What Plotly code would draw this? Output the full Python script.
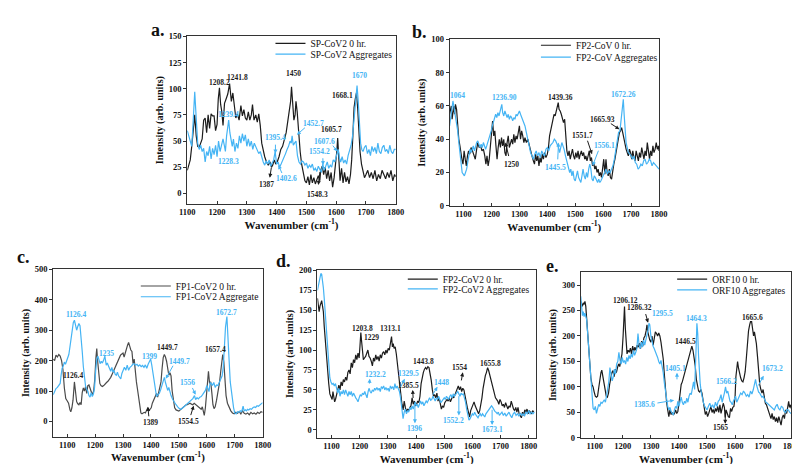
import plotly.graph_objects as go

FONT = "Liberation Serif"
BLACK = "#1c1c1c"
GRAY = "#4a4a4a"
BLUE = "#45b4f4"

# ---------------- data (wavenumber, intensity) ----------------
a_black = [(1100,22),(1105,28),(1110,32),(1115,45),(1120,60),(1125,75),(1130,55),(1135,45),(1140,44),(1145,48),(1150,52),(1155,70),(1160,72),(1165,58),(1170,75),(1175,62),(1180,76),(1185,74),(1190,74),(1195,60),(1200,66),(1204,90),(1208,101),(1212,85),(1216,78),(1220,65),(1225,86),(1230,90),(1236,95),(1242,105),(1248,88),(1253,96),(1258,80),(1263,72),(1268,76),(1274,70),(1280,84),(1285,74),(1290,80),(1295,72),(1300,70),(1305,78),(1310,70),(1315,75),(1319,85),(1324,70),(1330,75),(1335,68),(1340,76),(1345,65),(1350,48),(1355,40),(1360,35),(1366,30),(1372,27),(1378,30),(1383,25),(1387,27),(1392,32),(1397,28),(1402,30),(1408,35),(1414,42),(1420,45),(1426,52),(1432,58),(1438,70),(1443,80),(1447,88),(1450,102),(1454,82),(1458,70),(1462,75),(1465,88),(1469,78),(1474,58),(1479,40),(1484,28),(1490,20),(1495,12),(1500,10),(1505,16),(1510,8),(1515,18),(1520,10),(1525,15),(1530,9),(1535,14),(1540,17),(1545,12),(1548,22),(1553,26),(1558,18),(1563,25),(1568,14),(1573,22),(1578,12),(1583,20),(1588,6),(1593,15),(1598,28),(1602,40),(1605,53),(1609,25),(1613,12),(1618,24),(1623,10),(1628,20),(1633,11),(1638,16),(1643,9),(1648,18),(1652,32),(1656,55),(1660,82),(1664,90),(1668,96),(1672,82),(1676,60),(1680,40),(1685,28),(1690,20),(1695,15),(1700,18),(1706,22),(1712,15),(1718,20),(1724,14),(1730,22),(1736,12),(1742,18),(1748,14),(1754,22),(1760,18),(1766,14),(1772,20),(1778,15),(1784,22),(1790,12),(1796,18),(1800,16)]
a_blue = [(1100,60),(1105,55),(1110,48),(1115,45),(1120,70),(1125,97),(1130,72),(1135,48),(1140,42),(1145,46),(1150,40),(1155,43),(1160,30),(1165,40),(1170,36),(1175,45),(1180,33),(1185,43),(1190,37),(1195,46),(1200,35),(1205,50),(1210,40),(1215,46),(1220,52),(1225,45),(1228,40),(1232,55),(1236,62),(1239,70),(1243,58),(1247,50),(1251,45),(1255,52),(1260,40),(1265,48),(1270,43),(1275,55),(1280,48),(1285,57),(1290,50),(1295,56),(1300,45),(1305,52),(1310,45),(1315,50),(1320,42),(1325,48),(1330,44),(1335,42),(1340,38),(1345,40),(1350,34),(1355,30),(1360,27),(1365,31),(1370,28),(1375,32),(1380,26),(1385,30),(1390,32),(1395,40),(1400,28),(1405,30),(1410,25),(1415,28),(1420,31),(1425,35),(1430,38),(1435,42),(1440,45),(1445,50),(1449,48),(1452,55),(1456,46),(1460,48),(1465,50),(1470,36),(1475,30),(1480,28),(1485,31),(1490,30),(1495,27),(1500,29),(1505,24),(1510,27),(1515,25),(1520,28),(1525,22),(1530,24),(1535,21),(1540,26),(1545,22),(1550,20),(1555,28),(1560,22),(1565,26),(1570,30),(1575,24),(1580,27),(1585,25),(1590,32),(1595,30),(1600,36),(1604,38),(1607,42),(1611,34),(1615,30),(1620,35),(1625,29),(1630,32),(1635,28),(1640,36),(1645,40),(1650,46),(1655,55),(1660,70),(1665,90),(1670,103),(1674,88),(1678,62),(1682,48),(1686,42),(1690,40),(1695,44),(1700,46),(1705,38),(1710,42),(1715,36),(1720,45),(1725,40),(1730,44),(1735,38),(1740,48),(1745,40),(1750,38),(1755,44),(1760,46),(1765,40),(1770,42),(1775,38),(1780,46),(1785,40),(1790,38),(1795,42),(1800,42)]

b_black = [(1050,55),(1053,58),(1056,60),(1059,52),(1062,58),(1065,60),(1068,55),(1071,61),(1075,58),(1079,46),(1083,40),(1087,36),(1091,30),(1095,27),(1098,25),(1102,33),(1106,28),(1110,24),(1114,30),(1118,33),(1122,31),(1127,35),(1132,33),(1137,30),(1142,28),(1147,34),(1151,38),(1156,35),(1161,36),(1166,33),(1171,34),(1176,30),(1180,25),(1184,30),(1188,24),(1192,28),(1196,36),(1200,45),(1204,51),(1208,42),(1212,45),(1216,36),(1220,28),(1224,35),(1228,40),(1232,35),(1236,41),(1240,36),(1244,40),(1248,32),(1252,30),(1256,38),(1260,42),(1264,35),(1268,38),(1272,40),(1276,37),(1280,43),(1284,38),(1288,42),(1292,40),(1296,44),(1300,48),(1304,40),(1308,45),(1312,42),(1316,38),(1320,41),(1325,38),(1330,40),(1335,36),(1340,34),(1345,30),(1350,27),(1354,25),(1358,31),(1362,27),(1366,30),(1370,24),(1374,29),(1378,26),(1382,31),(1386,28),(1390,32),(1395,29),(1400,31),(1404,35),(1408,42),(1412,45),(1416,50),(1420,52),(1424,55),(1428,54),(1432,57),(1436,59),(1439,62),(1442,58),(1446,57),(1450,55),(1454,52),(1458,50),(1462,52),(1466,42),(1470,33),(1474,30),(1478,33),(1482,28),(1486,32),(1490,34),(1494,30),(1498,28),(1502,32),(1506,29),(1510,33),(1514,28),(1518,31),(1522,33),(1526,30),(1530,32),(1534,28),(1538,30),(1542,27),(1546,30),(1550,33),(1554,27),(1558,29),(1562,24),(1566,26),(1570,22),(1574,24),(1578,20),(1582,22),(1586,18),(1590,20),(1594,17),(1598,24),(1602,28),(1606,19),(1610,28),(1614,20),(1618,18),(1622,22),(1626,17),(1630,16),(1634,22),(1638,25),(1642,28),(1646,32),(1650,38),(1654,42),(1658,44),(1662,45),(1666,47),(1670,44),(1674,40),(1678,36),(1682,34),(1686,32),(1690,30),(1694,34),(1698,32),(1702,28),(1706,33),(1710,29),(1714,27),(1718,33),(1722,30),(1726,27),(1730,32),(1734,29),(1738,35),(1742,31),(1746,28),(1750,33),(1754,30),(1758,38),(1762,32),(1766,28),(1770,33),(1774,30),(1778,36),(1782,32),(1786,34),(1790,38),(1794,34),(1798,36),(1800,33)]
b_blue = [(1050,48),(1053,52),(1056,58),(1059,60),(1062,63),(1065,60),(1068,57),(1071,55),(1075,50),(1079,45),(1083,38),(1087,32),(1091,25),(1095,20),(1099,19),(1103,18),(1107,20),(1111,22),(1115,26),(1119,30),(1123,34),(1127,32),(1131,35),(1135,36),(1139,33),(1143,36),(1147,38),(1151,39),(1155,36),(1159,35),(1163,37),(1167,35),(1171,38),(1175,36),(1179,34),(1183,36),(1187,38),(1191,40),(1195,42),(1199,45),(1203,48),(1207,50),(1211,52),(1215,55),(1219,53),(1223,56),(1227,54),(1231,57),(1234,58),(1237,61),(1240,56),(1244,54),(1248,57),(1252,55),(1256,53),(1260,55),(1264,52),(1268,54),(1272,53),(1276,51),(1280,53),(1284,52),(1288,55),(1292,54),(1296,56),(1300,57),(1304,55),(1308,53),(1312,52),(1316,50),(1320,48),(1325,44),(1330,40),(1335,35),(1340,32),(1345,30),(1350,28),(1355,31),(1360,33),(1365,30),(1370,32),(1375,29),(1380,33),(1385,31),(1390,30),(1395,34),(1400,35),(1405,33),(1410,36),(1415,37),(1420,38),(1425,40),(1430,39),(1435,37),(1440,35),(1444,32),(1448,36),(1452,38),(1456,36),(1460,34),(1465,30),(1470,27),(1475,24),(1480,20),(1484,22),(1488,18),(1492,21),(1496,16),(1500,15),(1504,19),(1508,21),(1512,17),(1516,15),(1520,14),(1524,18),(1528,22),(1532,18),(1536,16),(1540,20),(1544,17),(1548,22),(1552,25),(1556,22),(1560,16),(1564,15),(1568,18),(1572,17),(1576,15),(1580,14),(1584,16),(1588,14),(1592,15),(1596,17),(1600,18),(1605,20),(1610,22),(1615,19),(1620,21),(1625,20),(1630,22),(1635,24),(1640,28),(1645,34),(1650,40),(1655,44),(1660,45),(1664,52),(1668,58),(1672,64),(1675,55),(1678,45),(1682,38),(1686,35),(1690,32),(1695,31),(1700,30),(1705,28),(1710,30),(1715,26),(1720,25),(1725,22),(1730,23),(1735,25),(1740,24),(1745,27),(1750,28),(1755,25),(1760,26),(1765,28),(1770,27),(1775,24),(1780,26),(1785,25),(1790,24),(1795,23),(1800,22)]

c_black = [(1050,205),(1055,200),(1060,218),(1065,212),(1070,220),(1075,215),(1080,200),(1085,170),(1090,110),(1095,75),(1100,68),(1105,60),(1110,38),(1113,32),(1117,45),(1121,70),(1126,130),(1130,95),(1134,65),(1138,58),(1142,55),(1146,62),(1150,55),(1154,95),(1158,110),(1162,100),(1166,115),(1170,92),(1174,118),(1178,120),(1182,110),(1186,95),(1190,88),(1195,100),(1199,140),(1203,210),(1206,240),(1209,200),(1213,150),(1217,125),(1221,118),(1226,115),(1231,118),(1236,125),(1241,128),(1246,132),(1251,138),(1256,145),(1261,155),(1266,165),(1271,178),(1276,190),(1281,200),(1286,210),(1291,218),(1296,222),(1300,225),(1304,212),(1308,228),(1312,240),(1316,250),(1320,260),(1324,245),(1328,235),(1332,230),(1336,190),(1340,205),(1344,160),(1348,130),(1352,105),(1356,75),(1360,45),(1364,28),(1368,25),(1372,27),(1376,30),(1380,28),(1385,38),(1389,45),(1393,36),(1397,40),(1401,45),(1405,60),(1410,72),(1415,85),(1420,92),(1424,80),(1428,95),(1432,110),(1436,130),(1440,175),(1444,210),(1448,220),(1452,212),(1456,198),(1460,165),(1464,152),(1468,160),(1472,150),(1476,100),(1480,65),(1485,45),(1490,38),(1495,35),(1500,34),(1505,38),(1510,42),(1515,48),(1520,50),(1525,54),(1530,55),(1535,58),(1540,60),(1545,57),(1550,55),(1555,60),(1560,56),(1565,54),(1570,50),(1575,45),(1580,40),(1584,48),(1588,28),(1591,20),(1595,45),(1599,90),(1603,140),(1606,165),(1610,125),(1614,130),(1618,95),(1622,55),(1626,42),(1630,48),(1635,70),(1640,95),(1645,125),(1650,165),(1654,200),(1657,220),(1661,195),(1665,130),(1669,85),(1674,60),(1680,45),(1686,35),(1692,28),(1698,25),(1704,30),(1710,27),(1716,32),(1722,25),(1728,35),(1734,27),(1740,24),(1746,28),(1752,22),(1758,30),(1764,25),(1770,28),(1776,24),(1782,30),(1788,26),(1794,32),(1800,30)]
c_blue = [(1050,88),(1055,100),(1060,108),(1065,112),(1070,118),(1075,125),(1078,150),(1082,175),(1086,182),(1090,195),(1094,188),(1098,200),(1102,205),(1106,220),(1110,245),(1114,275),(1118,305),(1122,325),(1126,333),(1130,315),(1134,300),(1138,312),(1142,322),(1146,315),(1150,280),(1154,230),(1158,180),(1162,140),(1166,115),(1170,105),(1174,100),(1178,85),(1182,80),(1186,95),(1190,82),(1194,90),(1198,110),(1202,165),(1206,205),(1210,215),(1214,205),(1218,190),(1222,198),(1226,192),(1230,200),(1235,215),(1240,185),(1244,192),(1248,182),(1252,175),(1256,165),(1260,178),(1264,162),(1268,168),(1272,155),(1276,152),(1280,162),(1284,150),(1288,145),(1292,140),(1296,158),(1300,170),(1305,178),(1310,168),(1315,185),(1320,168),(1325,178),(1330,182),(1335,188),(1340,190),(1345,185),(1350,188),(1355,182),(1360,186),(1365,180),(1370,184),(1375,178),(1380,186),(1385,175),(1390,188),(1395,198),(1399,205),(1403,185),(1407,160),(1411,130),(1415,100),(1420,82),(1425,88),(1430,92),(1435,105),(1440,120),(1444,135),(1448,145),(1452,128),(1456,118),(1460,102),(1464,112),(1468,95),(1472,85),(1478,72),(1484,62),(1490,55),(1496,48),(1502,42),(1508,40),(1514,45),(1520,50),(1526,55),(1532,58),(1538,62),(1544,68),(1550,75),(1556,85),(1560,72),(1565,78),(1570,74),(1575,80),(1580,82),(1585,88),(1590,95),(1595,102),(1600,118),(1604,105),(1608,98),(1612,128),(1616,125),(1620,118),(1625,128),(1630,112),(1635,120),(1640,118),(1645,128),(1650,140),(1655,150),(1659,180),(1663,250),(1667,310),(1672,345),(1676,290),(1680,200),(1684,130),(1688,95),(1692,70),(1696,45),(1700,28),(1705,25),(1710,32),(1715,30),(1720,35),(1725,32),(1730,50),(1734,34),(1738,38),(1742,35),(1746,40),(1750,38),(1755,42),(1760,40),(1765,45),(1770,48),(1775,46),(1780,52),(1785,50),(1790,55),(1795,58),(1800,62)]

d_black = [(1050,165),(1053,150),(1056,148),(1059,155),(1062,160),(1065,162),(1068,155),(1071,148),(1074,130),(1078,110),(1082,92),(1086,75),(1090,58),(1094,45),(1098,40),(1102,38),(1105,48),(1108,40),(1111,35),(1114,38),(1118,44),(1122,50),(1126,56),(1130,50),(1134,60),(1138,55),(1142,63),(1146,60),(1150,66),(1154,62),(1158,72),(1162,75),(1166,70),(1170,84),(1174,78),(1178,88),(1182,84),(1186,94),(1190,88),(1194,96),(1198,90),(1201,105),(1204,122),(1207,110),(1210,100),(1213,88),(1217,90),(1221,92),(1225,96),(1229,100),(1233,92),(1237,90),(1241,86),(1245,80),(1249,90),(1253,86),(1257,94),(1261,88),(1265,92),(1269,86),(1273,94),(1277,90),(1281,96),(1285,98),(1289,94),(1293,100),(1297,96),(1301,102),(1305,100),(1309,110),(1313,117),(1316,104),(1319,108),(1322,102),(1326,104),(1330,95),(1334,82),(1338,65),(1342,50),(1346,40),(1350,32),(1354,25),(1358,36),(1362,28),(1366,22),(1370,26),(1374,24),(1378,28),(1382,30),(1386,40),(1390,32),(1394,36),(1398,30),(1402,32),(1406,36),(1410,34),(1414,42),(1418,58),(1422,68),(1426,72),(1430,76),(1434,78),(1438,76),(1442,79),(1446,78),(1450,72),(1454,62),(1458,50),(1462,42),(1466,44),(1470,40),(1474,46),(1478,36),(1482,40),(1486,32),(1490,26),(1494,30),(1498,28),(1502,34),(1506,36),(1510,38),(1514,36),(1518,40),(1522,35),(1526,38),(1530,42),(1534,40),(1538,44),(1542,46),(1546,50),(1550,55),(1554,50),(1558,54),(1562,48),(1566,52),(1570,50),(1574,42),(1578,32),(1582,28),(1586,22),(1590,16),(1594,24),(1598,28),(1602,32),(1606,35),(1610,30),(1614,26),(1618,22),(1622,20),(1626,24),(1630,30),(1634,40),(1638,52),(1642,62),(1646,68),(1650,72),(1654,78),(1658,74),(1662,68),(1666,64),(1670,56),(1674,48),(1678,44),(1682,40),(1686,38),(1690,36),(1694,32),(1698,38),(1702,35),(1706,30),(1710,32),(1714,28),(1718,34),(1722,30),(1726,26),(1730,30),(1734,28),(1738,36),(1742,30),(1746,26),(1750,24),(1754,28),(1758,22),(1762,28),(1766,20),(1770,18),(1774,15),(1778,22),(1782,18),(1786,25),(1790,22),(1794,26),(1798,20),(1802,24),(1806,22),(1810,20),(1814,24),(1818,22)]
d_blue = [(1050,175),(1053,180),(1056,186),(1059,192),(1062,196),(1065,195),(1068,188),(1071,178),(1074,165),(1078,145),(1082,120),(1086,95),(1090,78),(1094,65),(1098,60),(1102,57),(1106,58),(1110,55),(1114,58),(1118,50),(1122,46),(1126,52),(1130,42),(1134,48),(1138,45),(1142,50),(1146,44),(1150,50),(1154,46),(1158,42),(1162,48),(1166,44),(1170,48),(1174,42),(1178,46),(1182,42),(1186,40),(1190,38),(1194,35),(1198,40),(1202,44),(1206,42),(1210,46),(1214,44),(1218,48),(1222,44),(1226,40),(1230,48),(1233,52),(1237,48),(1241,46),(1245,50),(1249,48),(1253,52),(1257,50),(1261,53),(1265,50),(1269,52),(1273,48),(1277,54),(1281,52),(1285,55),(1289,50),(1293,53),(1297,50),(1301,52),(1305,48),(1309,55),(1313,52),(1317,54),(1321,50),(1325,58),(1329,52),(1333,55),(1337,52),(1341,48),(1345,40),(1348,28),(1351,18),(1354,14),(1358,22),(1362,26),(1366,20),(1370,24),(1374,22),(1378,28),(1382,25),(1386,30),(1390,26),(1394,32),(1397,35),(1400,30),(1404,32),(1408,28),(1412,33),(1416,36),(1420,32),(1424,35),(1428,30),(1432,34),(1436,36),(1440,34),(1444,38),(1448,40),(1452,37),(1456,38),(1460,42),(1464,38),(1468,36),(1472,40),(1476,38),(1480,42),(1484,38),(1488,34),(1492,36),(1496,38),(1500,40),(1504,38),(1508,42),(1512,40),(1516,38),(1520,42),(1524,44),(1528,40),(1532,45),(1536,42),(1540,44),(1544,46),(1548,48),(1552,45),(1556,42),(1560,46),(1564,44),(1568,45),(1572,40),(1576,34),(1580,25),(1584,18),(1588,12),(1592,14),(1596,18),(1600,20),(1604,18),(1608,22),(1612,19),(1616,16),(1620,15),(1624,18),(1628,20),(1632,17),(1636,20),(1640,18),(1644,16),(1648,20),(1652,22),(1656,24),(1660,26),(1664,28),(1668,30),(1672,28),(1676,25),(1680,23),(1684,22),(1688,20),(1692,22),(1696,18),(1700,20),(1705,22),(1710,18),(1715,21),(1720,17),(1725,20),(1730,22),(1735,18),(1740,15),(1745,20),(1750,22),(1755,18),(1760,20),(1765,17),(1770,21),(1775,18),(1780,20),(1785,17),(1790,22),(1795,20),(1800,24),(1805,20),(1810,22),(1815,20),(1820,22)]

e_black = [(1050,268),(1053,262),(1056,258),(1059,265),(1062,262),(1065,268),(1068,258),(1071,235),(1074,210),(1078,175),(1082,140),(1086,118),(1090,105),(1094,100),(1098,90),(1102,82),(1106,80),(1110,82),(1114,98),(1118,115),(1122,128),(1125,133),(1129,120),(1133,100),(1137,88),(1141,82),(1145,80),(1149,88),(1153,105),(1157,120),(1161,128),(1165,132),(1169,120),(1173,135),(1177,128),(1181,138),(1185,145),(1189,140),(1193,152),(1197,165),(1201,200),(1204,240),(1206,258),(1209,215),(1212,180),(1215,165),(1219,172),(1223,168),(1227,176),(1231,165),(1235,180),(1239,170),(1243,178),(1247,172),(1251,182),(1255,178),(1259,186),(1263,175),(1267,190),(1271,180),(1275,196),(1279,200),(1283,210),(1286,222),(1289,208),(1292,200),(1296,192),(1300,188),(1304,200),(1308,182),(1312,195),(1316,208),(1320,205),(1324,200),(1328,206),(1332,200),(1336,188),(1340,175),(1344,155),(1348,125),(1352,95),(1356,70),(1360,55),(1364,42),(1368,55),(1372,46),(1376,50),(1380,45),(1384,48),(1388,55),(1392,48),(1396,52),(1400,68),(1404,95),(1408,105),(1412,110),(1416,118),(1420,125),(1424,132),(1428,140),(1432,150),(1436,160),(1440,168),(1443,175),(1446,180),(1450,172),(1454,160),(1458,142),(1462,115),(1466,100),(1470,92),(1474,90),(1478,95),(1482,88),(1486,75),(1490,58),(1494,46),(1498,52),(1502,42),(1506,48),(1510,55),(1514,62),(1518,50),(1522,56),(1526,48),(1530,58),(1534,52),(1538,62),(1542,50),(1546,65),(1550,48),(1554,58),(1558,68),(1562,60),(1565,40),(1568,55),(1572,48),(1576,42),(1580,40),(1584,58),(1588,52),(1592,60),(1596,62),(1600,80),(1603,120),(1606,142),(1609,150),(1612,138),(1616,125),(1620,118),(1624,112),(1628,110),(1632,118),(1636,130),(1640,155),(1644,185),(1648,210),(1652,222),(1655,228),(1659,228),(1663,215),(1666,200),(1669,208),(1672,198),(1676,185),(1680,160),(1684,125),(1688,105),(1692,95),(1696,88),(1700,95),(1704,80),(1708,68),(1712,65),(1716,58),(1720,52),(1724,42),(1728,38),(1732,48),(1736,36),(1740,42),(1744,32),(1748,40),(1752,30),(1756,42),(1760,30),(1764,25),(1768,40),(1772,45),(1776,38),(1780,55),(1784,48),(1788,62),(1791,72),(1794,60),(1797,65),(1800,58)]
e_blue = [(1050,278),(1053,250),(1056,240),(1059,248),(1062,238),(1065,245),(1068,240),(1071,232),(1074,210),(1078,175),(1082,140),(1086,110),(1090,80),(1094,58),(1098,55),(1102,62),(1106,48),(1110,60),(1114,66),(1118,62),(1122,70),(1126,68),(1130,72),(1134,75),(1138,70),(1142,82),(1146,95),(1150,110),(1154,138),(1158,125),(1162,112),(1166,120),(1170,135),(1174,125),(1178,145),(1182,150),(1186,168),(1190,152),(1194,145),(1198,158),(1202,148),(1206,152),(1210,145),(1214,158),(1218,150),(1222,162),(1226,155),(1230,165),(1234,158),(1238,172),(1242,162),(1246,168),(1250,175),(1254,205),(1258,182),(1262,175),(1266,188),(1270,178),(1274,192),(1278,182),(1282,192),(1286,198),(1290,212),(1293,225),(1296,222),(1300,200),(1304,188),(1308,180),(1312,175),(1316,170),(1320,162),(1324,158),(1328,150),(1332,145),(1336,152),(1340,142),(1344,128),(1348,108),(1352,90),(1356,75),(1360,62),(1364,55),(1368,60),(1372,52),(1376,48),(1380,45),(1384,55),(1388,62),(1392,58),(1396,72),(1400,62),(1404,75),(1408,80),(1412,70),(1416,65),(1420,72),(1424,68),(1428,78),(1432,70),(1436,82),(1440,88),(1444,85),(1448,100),(1452,110),(1456,95),(1459,130),(1462,190),(1464,225),(1467,205),(1470,160),(1473,125),(1476,105),(1480,88),(1484,75),(1488,68),(1492,62),(1496,58),(1500,55),(1505,62),(1510,68),(1515,60),(1520,65),(1525,58),(1530,70),(1535,62),(1540,72),(1545,75),(1550,85),(1554,70),(1558,78),(1562,88),(1566,100),(1570,88),(1574,92),(1578,80),(1582,72),(1586,70),(1590,65),(1594,72),(1598,78),(1602,82),(1606,70),(1610,75),(1615,82),(1620,88),(1625,85),(1630,92),(1635,88),(1640,82),(1645,85),(1650,80),(1655,92),(1660,86),(1665,95),(1670,108),(1673,115),(1676,105),(1680,98),(1684,90),(1688,88),(1692,85),(1696,80),(1700,82),(1705,75),(1710,70),(1715,68),(1720,65),(1725,62),(1730,60),(1735,58),(1740,55),(1745,62),(1750,66),(1755,58),(1760,55),(1765,62),(1770,60),(1775,52),(1780,50),(1785,56),(1790,55),(1795,50),(1800,48)]

# legend names
a_names = ["SP-CoV2 0 hr.", "SP-CoV2 Aggregates"]
b_names = ["FP2-CoV 0 hr.", "FP2-CoV Aggregates"]
c_names = ["FP1-CoV2 0 hr.", "FP1-CoV2 Aggregate"]
d_names = ["FP2-CoV2 0 hr.", "FP2-CoV2 Aggregates"]
e_names = ["ORF10 0 hr.", "ORF10 Aggregates"]

# peak labels: (text, x, y, series)  k = black, b = blue
a_labels = [("1208.2",1207,106,"k"),("1241.8",1268,111,"k"),("1450",1456,115,"k"),("1668.1",1620,94,"k"),("1605.7",1584,61,"k"),("1387",1365,8,"k"),("1548.3",1538,-1,"k"),("1670",1678,113,"b"),("1239.4",1237,75,"b"),("1228.3",1240,30,"b"),("1395.4",1396,53,"b"),("1402.6",1434,14,"b"),("1452.7",1524,67,"b"),("1607.6",1561,50,"b"),("1554.2",1544,40,"b")]
b_labels = [("1064",1077,66,"b"),("1236.90",1247,65,"b"),("1439.36",1446,65,"k"),("1672.26",1674,67,"b"),("1665.93",1598,52,"k"),("1551.7",1526,42,"k"),("1556.1",1604,36,"b"),("1250",1272,25,"k"),("1445.5",1428,23,"b")]
c_labels = [("1126.4",1132,352,"b"),("1126.4",1120,150,"k"),("1235",1242,224,"b"),("1399",1394,214,"b"),("1449.7",1460,243,"k"),("1449.7",1504,197,"b"),("1657.4",1631,238,"k"),("1672.7",1670,359,"b"),("1556",1531,127,"b"),("1389",1398,-3,"k"),("1554.5",1534,0,"k")]
d_labels = [("1203.8",1210,127,"k"),("1229",1243,116,"k"),("1313.1",1309,127,"k"),("1443.8",1425,86,"k"),("1554",1553,78,"k"),("1655.8",1663,83,"k"),("1385.5",1373,55,"k"),("1232.2",1257,69,"b"),("1329.5",1373,70,"b"),("1448",1491,59,"b"),("1396",1394,2,"b"),("1552.2",1533,12,"b"),("1673.1",1673,0,"b")]
e_labels = [("1206.12",1209,270,"k"),("1286.32",1260,255,"k"),("1295.5",1343,245,"b"),("1464.3",1464,235,"b"),("1446.5",1424,189,"k"),("1665.6",1661,237,"k"),("1405.1",1388,136,"b"),("1673.2",1735,136,"b"),("1566.2",1569,111,"b"),("1385.6",1278,65,"b"),("1565",1548,21,"k")]

# arrows: (x_tail, y_tail, x_head, y_head, series)
a_arrows = [(1383,26,1377,15,"k"),(1546,22,1540,8,"k"),(1420,18,1406,27,"b"),(1396,48,1396,38,"b"),(1500,64,1468,56,"b"),(1585,47,1604,40,"b"),(1555,35,1556,27,"b")]
b_arrows = [(1622,50,1658,46,"k"),(1542,40,1560,31,"k"),(1585,34,1562,24,"b"),(1263,29,1250,38,"k"),(1437,27,1440,38,"b")]
c_arrows = [(1482,188,1453,140,"b"),(1546,115,1560,88,"b"),(1393,12,1389,48,"k"),(1541,16,1553,52,"k")]
d_arrows = [(1560,60,1566,72,"k"),(1390,38,1388,50,"k"),(1234,56,1236,64,"b"),(1343,52,1360,64,"b"),(1456,42,1476,54,"b"),(1396,32,1396,8,"b"),(1552,44,1552,18,"b"),(1670,27,1670,6,"b")]
e_arrows = [(1280,246,1290,226,"k"),(1393,112,1393,128,"b"),(1680,100,1702,122,"b"),(1318,68,1383,74,"b"),(1565,52,1565,28,"k")]

wn_ticks = [1100, 1200, 1300, 1400, 1500, 1600, 1700, 1800]

# ---------------- layout of panels ----------------
panels = [
    dict(tag="a.", black=a_black, blue=a_blue, names=a_names, labels=a_labels, arrows=a_arrows,
         xd=[0.21875, 0.485], yd=[0.5797, 0.9483], xr=[1100, 1800], yr=[-10, 150], dt=25,
         ytitle="Intensity (arb. units)", legx=0.325, legy=(0.933, 0.9095), tagpos=(0.181, 0.99), kc=BLACK),
    dict(tag="b.", black=b_black, blue=b_blue, names=b_names, labels=b_labels, arrows=b_arrows,
         xd=[0.55375, 0.82125], yd=[0.5754, 0.9418], xr=[1050, 1800], yr=[0, 100], dt=20,
         ytitle="Intensity (arb. units)", legx=0.664, legy=(0.929, 0.903), tagpos=(0.515, 0.985), kc=BLACK),
    dict(tag="c.", black=c_black, blue=c_blue, names=c_names, labels=c_labels, arrows=c_arrows,
         xd=[0.0475, 0.315], yd=[0.0668, 0.4353], xr=[1050, 1800], yr=[-50, 500], dt=100,
         ytitle="Intensity (arb. units)", legx=0.153, legy=(0.3987, 0.375), tagpos=(0.009, 0.488), kc=GRAY),
    dict(tag="d.", black=d_black, blue=d_blue, names=d_names, labels=d_labels, arrows=d_arrows,
         xd=[0.385, 0.6638], yd=[0.0645, 0.4332], xr=[1050, 1825], yr=[-10, 200], dt=25,
         ytitle="Intensity (arb .units)", legx=0.494, legy=(0.4138, 0.3922), tagpos=(0.342, 0.48), kc=BLACK),
    dict(tag="e.", black=e_black, blue=e_blue, names=e_names, labels=e_labels, arrows=e_arrows,
         xd=[0.72125, 0.99], yd=[0.064, 0.4289], xr=[1050, 1800], yr=[0, 325], dt=50,
         ytitle="Instensity (arb. units)", legx=0.838, legy=(0.4138, 0.3901), tagpos=(0.685, 0.47), kc=BLACK),
]

fig = go.Figure()
annotations = []
layout = dict(
    width=800, height=464, margin=dict(l=0, r=0, t=0, b=0),
    paper_bgcolor="white", plot_bgcolor="white",
    font=dict(family=FONT, color="#111", size=10),
    showlegend=True,
)

leg_id = 0
for i, p in enumerate(panels):
    n = i + 1
    sfx = "" if n == 1 else str(n)
    xref, yref = "x" + sfx, "y" + sfx
    for k, (series, color, name) in enumerate(((p["black"], p["kc"], p["names"][0]),
                                               (p["blue"], BLUE, p["names"][1]))):
        leg_id += 1
        legname = "legend" if leg_id == 1 else "legend%d" % leg_id
        xs = [t[0] for t in series]
        ys = [t[1] for t in series]
        fig.add_trace(go.Scatter(x=xs, y=ys, mode="lines", name=name,
                                 line=dict(color=color, width=1.2),
                                 xaxis=xref, yaxis=yref, legend=legname))
        layout[legname] = dict(x=p["legx"], y=p["legy"][k], xanchor="left", yanchor="middle",
                               bgcolor="rgba(0,0,0,0)", borderwidth=0, tracegroupgap=0,
                               itemwidth=30, font=dict(family=FONT, size=9.5, color="#111"))
    axis_common = dict(showline=True, mirror=True, linecolor="#333", linewidth=1,
                       showgrid=False, zeroline=False, ticklen=3, tickcolor="#333",
                       tickfont=dict(family=FONT, size=8.5, weight="bold", color="#111"))
    layout["xaxis" + sfx] = dict(axis_common, domain=p["xd"], range=p["xr"], anchor=yref,
                                 tickvals=wn_ticks, ticks="inside",
                                 title=dict(text="Wavenumber (cm<sup>-1</sup>)", standoff=1,
                                            font=dict(family=FONT, size=11, weight="bold")))
    layout["yaxis" + sfx] = dict(axis_common, domain=p["yd"], range=p["yr"], anchor=xref,
                                 tick0=0, dtick=p["dt"], ticks="outside",
                                 title=dict(text=p["ytitle"], standoff=3,
                                            font=dict(family=FONT, size=10, weight="bold")))
    annotations.append(dict(text="<b>%s</b>" % p["tag"], x=p["tagpos"][0], y=p["tagpos"][1],
                            xref="paper", yref="paper", showarrow=False,
                            font=dict(family=FONT, size=18, color="#111"),
                            xanchor="center", yanchor="top"))
    for txt, lx, ly, s in p["labels"]:
        annotations.append(dict(text="<b>%s</b>" % txt, x=lx, y=ly, xref=xref, yref=yref,
                                showarrow=False,
                                font=dict(family=FONT, size=7.5, color=BLUE if s == "b" else BLACK)))
    for tx, ty, hx, hy, s in p["arrows"]:
        col = BLUE if s == "b" else BLACK
        annotations.append(dict(text="", x=hx, y=hy, ax=tx, ay=ty, xref=xref, yref=yref,
                                axref=xref, ayref=yref, showarrow=True, arrowhead=2,
                                arrowsize=0.8, arrowwidth=1, arrowcolor=col, standoff=0))

layout["annotations"] = annotations
fig.update_layout(**layout)
fig.write_html("out.html")
